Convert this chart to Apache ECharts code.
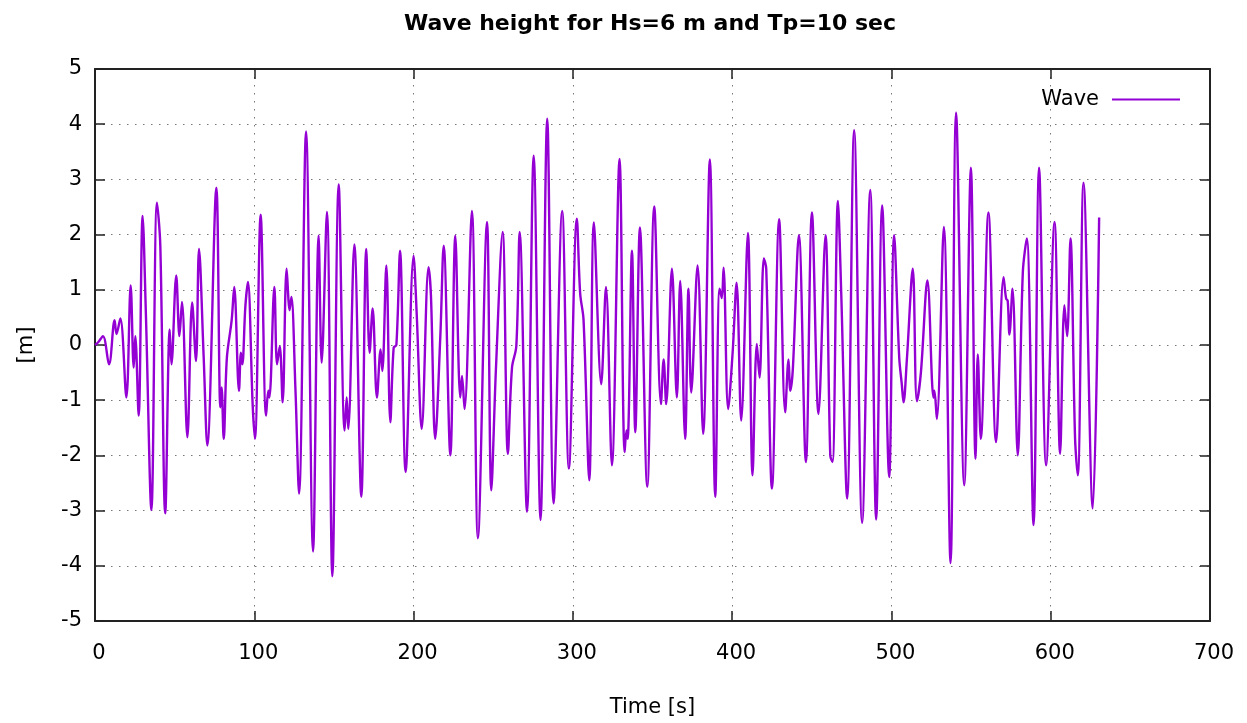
<!DOCTYPE html>
<html>
<head>
<meta charset="utf-8">
<script src="https://cdn.jsdelivr.net/npm/echarts@6/dist/echarts.min.js"></script>
<style>
html,body{margin:0;padding:0;background:#fff;}
#chart{width:1247px;height:723px;}
</style>
</head>
<body>
<div id="chart"></div>
<script>
// wave record (turning points + shoulders)
const timeSec = [0,2,5,8.8,12.3,13.5,15.9,19.7,22.4,24.3,25.3,27.4,29.9,32,35.4,38.9,41,44.1,46.9,48,51,53,54.6,58,61,63.4,65.3,68.2,70.5,76.2,78.7,79.5,80.8,82.8,85.8,87.4,90.4,91.6,92.5,94.4,96,99,100.4,
  104,107.4,108.8,109.5,112.6,114.3,116,117.8,120.3,122.2,123.3,125.8,128.1,132.5,136.9,140.4,142.3,145.6,149,153,156.7,158,159,162.8,167.2,170.3,172.4,174.3,177,179.3,180.4,182.9,185.4,187.5,189.2,191.5,195,200,202,205.1,209.4,210.9,213.6,
  216.8,218.9,223.1,226.2,229.3,230.4,232,236.6,240.4,246.1,248.8,251.7,255.9,259.2,261.8,264.5,266.6,271.2,275.4,279.7,283.9,287.9,293.3,297.5,302.5,304.6,306.7,310.3,313.2,317.8,
  320.8,324.5,329.3,332.5,333.7,334.4,337.1,339.2,342.1,346.7,351.1,355.3,357,358.6,362.2,365.3,367.4,370.5,372.6,374.3,378.3,381.8,386,389.4,392.1,393.5,394.6,397.5,400.3,402.8,405.7,409.9,412.8,415.5,417.2,419.9,421.4,425,
  429.5,433.3,435.4,436.5,438.1,441.9,446.3,450.1,454.2,458.6,461.6,463,466.4,468.5,472.2,476.6,481.6,486.7,490.4,494.2,498.6,501.7,504.9,506.5,507.6,509.7,513.4,516,518.5,522.6,526.4,527,528.5,
  532.9,537.1,540.6,545.7,549.9,552.8,554.2,556.1,560.9,565.7,570.4,572,573,574.1,576,579.3,582.5,585,589.2,592.7,597.1,602.4,605.9,608.6,610.3,612.4,615.3,617,620.6,626.4,630.4];
const waveHeight = [0,0.05,0.16,-0.35,0.45,0.2,0.48,-0.95,1.08,-0.41,0.16,-1.28,2.34,0.51,-2.99,2.58,1.8,-3.05,0.28,-0.35,1.26,0.16,0.78,-1.67,0.77,-0.29,1.74,-0.2,-1.82,2.85,-1.13,-0.77,-1.7,-0.23,0.45,1.05,-0.83,-0.14,-0.35,0.7,1.14,-1.1,-1.7,
  2.36,-1.28,-0.83,-0.95,1.05,-0.35,-0.02,-1.04,1.38,0.63,0.87,-0.77,-2.69,3.87,-3.74,1.98,-0.32,2.41,-4.19,2.91,-1.55,-0.95,-1.52,1.82,-2.75,1.74,-0.14,0.66,-0.95,-0.08,-0.47,1.44,-1.4,-0.05,0,1.71,-2.3,1.62,0.54,-1.52,1.41,0.9,-1.7,
  0.16,1.8,-2.0,1.98,-0.95,-0.56,-1.16,2.43,-3.5,2.23,-2.63,-0.44,2.05,-1.97,-0.41,-0.02,2.05,-3.02,3.43,-3.17,4.1,-2.87,2.43,-2.24,2.29,0.93,0.46,-2.45,2.22,-0.71,
  1.05,-2.18,3.37,-1.94,-1.55,-1.7,1.71,-1.58,2.13,-2.57,2.51,-1.07,-0.26,-1.07,1.38,-0.95,1.16,-1.7,1.02,-0.86,1.44,-1.61,3.36,-2.75,1.02,0.85,1.4,-1.16,-0.14,1.13,-1.37,2.03,-2.36,0.02,-0.59,1.57,1.38,-2.6,
  2.28,-1.22,-0.26,-0.83,-0.44,1.99,-2.12,2.4,-1.25,1.99,-2.0,-2.12,2.61,0.93,-2.78,3.89,-3.22,2.81,-3.16,2.53,-2.39,1.99,-0.23,-0.71,-1.04,-0.26,1.38,-1.02,-0.5,1.17,-0.95,-0.83,-1.34,
  2.14,-3.95,4.21,-2.54,3.21,-2.06,-0.17,-1.7,2.4,-1.76,1.23,0.84,0.8,0.19,1.02,-2.0,1.32,1.93,-3.26,3.21,-2.18,2.23,-1.97,0.72,0.16,1.93,-1.7,-2.36,2.94,-2.96,2.31];

const FONT = '"DejaVu Sans", sans-serif';
const gridLine = {show:true, lineStyle:{color:'#777', width:1, type:[1.5,6.5]}};
const frame = {show:true, onZero:false, lineStyle:{color:'#222', width:2}};
const ticks = {show:true, inside:true, length:10, lineStyle:{color:'#222', width:1.5}};

const chart = echarts.init(document.getElementById('chart'));
chart.setOption({
  animation:false,
  backgroundColor:'#fff',
  title:{
    text:'Wave height for Hs=6 m and Tp=10 sec', left:645, top:8, textAlign:'center',
    textStyle:{fontFamily:FONT, fontWeight:'bold', fontSize:22, color:'#000'}
  },
  legend:{
    data:['Wave'], right:62, top:84, align:'right', icon:'rect', itemWidth:68, itemHeight:2, itemGap:0,
    textStyle:{fontFamily:FONT, fontSize:21, color:'#000', padding:[0,8,0,0]}
  },
  grid:{left:95, right:37, top:69, bottom:97, containLabel:false},
  xAxis:[
    {type:'value', min:0, max:700, interval:100, position:'bottom',
     name:'Time [s]', nameLocation:'middle', nameGap:76,
     nameTextStyle:{fontFamily:FONT, fontSize:21, color:'#000'},
     axisLine:frame, axisTick:ticks, splitLine:gridLine,
     axisLabel:{fontFamily:FONT, fontSize:21, color:'#000', margin:22, padding:[0,0,0,8]}},
    {type:'value', min:0, max:700, interval:100, position:'top',
     axisLine:frame, axisTick:ticks, splitLine:{show:false}, axisLabel:{show:false}}
  ],
  yAxis:[
    {type:'value', min:-5, max:5, interval:1, position:'left',
     name:'[m]', nameLocation:'middle', nameGap:58,
     nameTextStyle:{fontFamily:FONT, fontSize:21, color:'#000'},
     axisLine:frame, axisTick:ticks, splitLine:gridLine,
     axisLabel:{fontFamily:FONT, fontSize:21, color:'#000', margin:13}},
    {type:'value', min:-5, max:5, interval:1, position:'right',
     axisLine:frame, axisTick:ticks, splitLine:{show:false}, axisLabel:{show:false}}
  ],
  series:[{
    name:'Wave', type:'line', xAxisIndex:0, yAxisIndex:0,
    data: timeSec.map((t,i)=>[t, waveHeight[i]]),
    showSymbol:false, smooth:0.35,
    lineStyle:{color:'#9400D3', width:2.4},
    itemStyle:{color:'#9400D3'}
  }]
});
</script>
</body>
</html>
